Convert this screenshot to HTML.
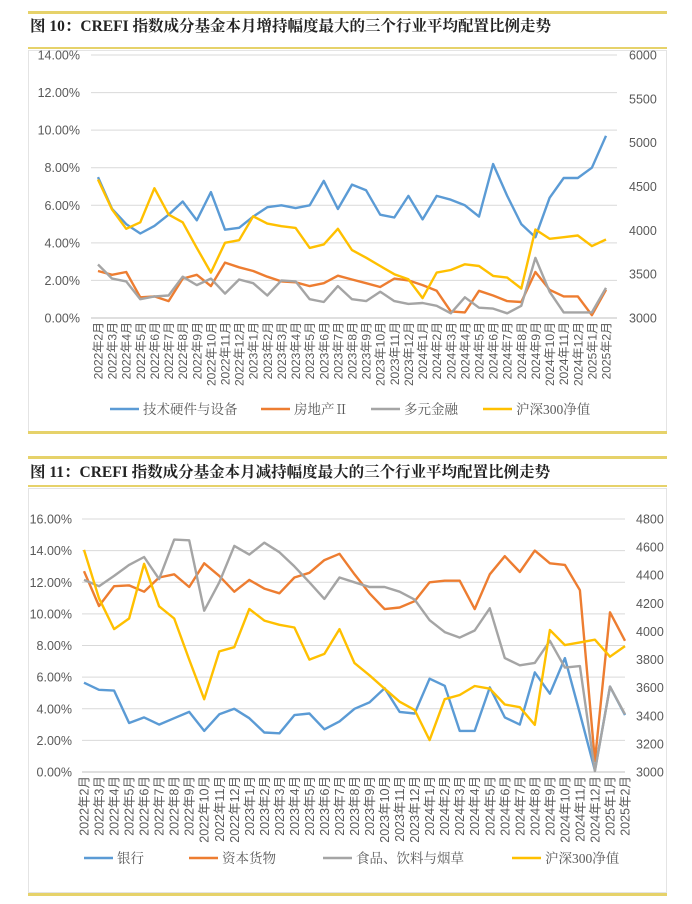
<!DOCTYPE html>
<html><head><meta charset="utf-8">
<style>
body{margin:0;background:#fff;width:692px;height:904px;overflow:hidden;font-family:"Liberation Serif","Noto Serif CJK SC",serif;}
svg{position:absolute;left:0;top:0}
</style></head>
<body>
<svg id="s" width="692" height="904">
 <g>
  <rect x="28" y="11" width="639" height="3" fill="#e6d26a"/>
  <text x="30" y="31" font-size="15.5" font-weight="bold" fill="#222">图 10：CREFI 指数成分基金本月增持幅度最大的三个行业平均配置比例走势</text>
  <rect x="28" y="47" width="639" height="2" fill="#e6d26a"/>
  <rect x="28.5" y="50.5" width="638" height="381" fill="none" stroke="#e4e4e4"/>
  <rect x="28" y="431" width="639" height="3" fill="#e6d26a"/>
 </g>
 <g>
  <rect x="28" y="456" width="639" height="3" fill="#e6d26a"/>
  <text x="30" y="477" font-size="15.5" font-weight="bold" fill="#222">图 11：CREFI 指数成分基金本月减持幅度最大的三个行业平均配置比例走势</text>
  <rect x="28" y="485" width="639" height="2" fill="#e6d26a"/>
  <rect x="28.5" y="488.5" width="638" height="404" fill="none" stroke="#e4e4e4"/>
  <rect x="28" y="893" width="639" height="3" fill="#e6d26a"/>
 </g>
 <g id="c1"></g>
 <g id="c2"></g>
</svg>
<script>
const categories=[];
for(let y=2022,m=2;y<2025||(y===2025&&m<=2);){categories.push(y+"年"+m+"月");m++;if(m>12){m=1;y++;}}
// chart 1
const techHardware=[7.5,5.8,5.0,4.5,4.9,5.5,6.2,5.2,6.7,4.7,4.8,5.4,5.9,6.0,5.85,6.0,7.3,5.8,7.1,6.8,5.5,5.35,6.5,5.25,6.5,6.3,6.0,5.4,8.2,6.5,5.0,4.3,6.4,7.45,7.45,8.0,9.7];
const realEstate=[2.5,2.3,2.45,1.1,1.15,0.9,2.1,2.3,1.7,2.95,2.7,2.5,2.2,1.95,1.9,1.7,1.85,2.25,2.05,1.85,1.65,2.1,2.0,1.75,1.45,0.35,0.3,1.45,1.2,0.9,0.85,2.45,1.5,1.15,1.15,0.15,1.5];
const diversifiedFin=[2.85,2.1,1.95,1.0,1.15,1.2,2.2,1.75,2.1,1.3,2.05,1.85,1.2,2.0,1.95,1.0,0.85,1.7,1.0,0.9,1.4,0.9,0.75,0.8,0.65,0.25,1.1,0.55,0.5,0.25,0.65,3.2,1.4,0.3,0.3,0.3,1.6];
const csi300=[4580,4236,4017,4092,4481,4179,4092,3800,3518,3858,3888,4160,4077,4047,4028,3800,3840,4017,3775,3688,3593,3500,3442,3227,3518,3548,3612,3593,3480,3461,3336,4010,3903,3922,3941,3820,3896];
const leftTicks1=[0,2,4,6,8,10,12,14];
const rightTicks1=[3000,3500,4000,4500,5000,5500,6000];
// chart 2
const banks=[5.65,5.2,5.15,3.1,3.45,3.0,3.4,3.8,2.6,3.65,4.0,3.4,2.5,2.45,3.6,3.7,2.7,3.2,4.0,4.4,5.3,3.8,3.7,5.9,5.45,2.6,2.6,5.35,3.45,3.0,6.3,4.95,7.2,3.7,0.1,5.4,3.6];
const capitalGoods=[12.7,10.5,11.75,11.8,11.4,12.3,12.5,11.7,13.2,12.4,11.4,12.15,11.6,11.3,12.3,12.6,13.4,13.8,12.5,11.3,10.3,10.4,10.8,12.0,12.1,12.1,10.3,12.5,13.65,12.65,14.0,13.2,13.1,11.5,0.7,10.1,8.3];
const foodBev=[12.15,11.75,12.4,13.1,13.6,12.2,14.7,14.65,10.2,12.0,14.3,13.75,14.5,13.9,13.0,12.0,10.95,12.3,12.0,11.7,11.7,11.4,10.9,9.6,8.85,8.5,8.95,10.35,7.2,6.75,6.9,8.3,6.6,6.7,0.05,5.4,3.65];
const leftTicks2=[0,2,4,6,8,10,12,14,16];
const rightTicks2=[3000,3200,3400,3600,3800,4000,4200,4400,4600,4800];

const NS="http://www.w3.org/2000/svg";
function mk(parent,tag,attrs,txt){const e=document.createElementNS(NS,tag);for(const k in attrs)e.setAttribute(k,attrs[k]);if(txt!==undefined)e.textContent=txt;parent.appendChild(e);return e;}

function drawChart(g,cfg){
  const xs=i=>cfg.x0+(cfg.x1-cfg.x0)*i/(categories.length-1);
  const yl=v=>cfg.yb-(cfg.yb-cfg.yt)*(v-cfg.lmin)/(cfg.lmax-cfg.lmin);
  const yr=v=>cfg.yb-(cfg.yb-cfg.yt)*(v-cfg.rmin)/(cfg.rmax-cfg.rmin);
  cfg.lt.forEach(t=>{
    const l=mk(g,"line",{x1:cfg.gx0,x2:cfg.gx1,y1:yl(t),y2:yl(t),stroke:t===0?"#bfbfbf":"#d9d9d9","stroke-width":1});
    
    
    const tx=mk(g,"text",{x:cfg.lx,y:yl(t)+4.5,"text-anchor":"end","font-size":12.5,fill:"#595959","font-family":"Liberation Sans, sans-serif"},t.toFixed(2)+"%");
    
    
  });
  cfg.rt.forEach(t=>{
    const tx=mk(g,"text",{x:cfg.rx,y:yr(t)+4.5,"font-size":12.5,fill:"#595959","font-family":"Liberation Sans, sans-serif"},String(t));
    
    
  });
  categories.forEach((c,i)=>{
    const x=xs(i);
    const tx=mk(g,"text",{transform:`translate(${x+4.5},${cfg.yb+4}) rotate(-90)`,"text-anchor":"end","font-size":cfg.xfs,fill:"#595959","font-family":"Liberation Sans, Noto Sans CJK SC, sans-serif"},c);
    
    
  });
  cfg.series.forEach(s=>{
    const f=s.right?yr:yl;
    const p=mk(g,"polyline",{points:s.data.map((v,i)=>xs(i).toFixed(1)+","+f(v).toFixed(1)).join(" "),fill:"none",stroke:s.color,"stroke-width":2.4,"stroke-linejoin":"round"});
    
    
  });
  cfg.series.forEach(s=>{
    const lg=mk(g,"g",{});
    
    
    mk(lg,"line",{x1:s.lx,x2:s.lx+29,y1:cfg.ly,y2:cfg.ly,stroke:s.color,"stroke-width":2.6});
    mk(lg,"text",{x:s.lx+33,y:cfg.ly+5,"font-size":13.5,fill:"#595959","font-family":"Liberation Serif, Noto Serif CJK SC, serif"},s.label);
  });
}
drawChart(document.getElementById("c1"),{x0:98,x1:606,gx0:91,gx1:617,yt:55,yb:318,lmin:0,lmax:14,rmin:3000,rmax:6000,lt:leftTicks1,rt:rightTicks1,lx:80,rx:629,ly:409,xfs:12,
 series:[{name:'tech-hardware',label:'技术硬件与设备',data:techHardware,color:'#5b9bd5',lx:110},
 {name:'real-estate',label:'房地产Ⅱ',data:realEstate,color:'#ed7d31',lx:261},
 {name:'diversified-finance',label:'多元金融',data:diversifiedFin,color:'#a5a5a5',lx:371},
 {name:'csi300',label:'沪深300净值',data:csi300,color:'#ffc000',lx:483,right:true}]});
drawChart(document.getElementById("c2"),{x0:84,x1:625,gx0:82,gx1:625,yt:519,yb:772,lmin:0,lmax:16,rmin:3000,rmax:4800,lt:leftTicks2,rt:rightTicks2,lx:72,rx:636,ly:858,xfs:12.5,
 series:[{name:'banks',label:'银行',data:banks,color:'#5b9bd5',lx:84},
 {name:'capital-goods',label:'资本货物',data:capitalGoods,color:'#ed7d31',lx:189},
 {name:'food-beverage-tobacco',label:'食品、饮料与烟草',data:foodBev,color:'#a5a5a5',lx:323},
 {name:'csi300-2',label:'沪深300净值',data:csi300,color:'#ffc000',lx:512,right:true}]});
</script>
</body></html>
